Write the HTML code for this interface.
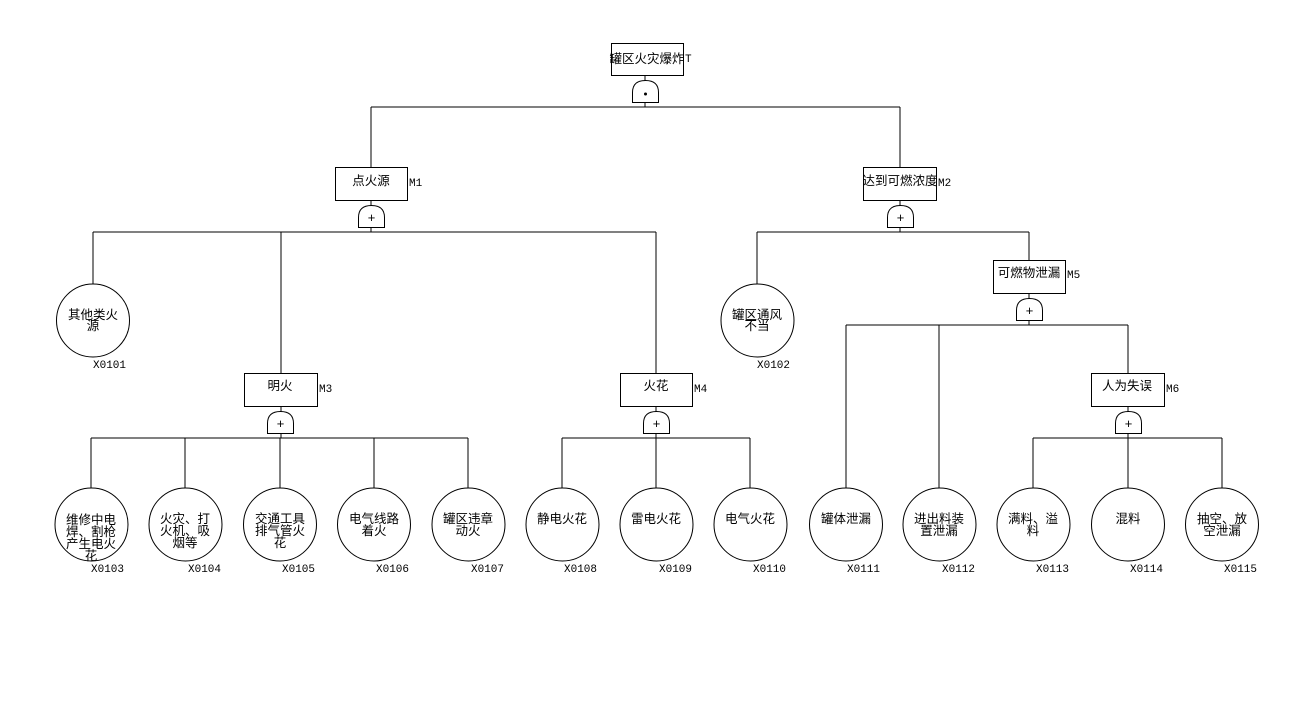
<!DOCTYPE html>
<html><head><meta charset="utf-8"><style>
html,body{margin:0;padding:0;background:#fff;width:1298px;height:716px;overflow:hidden}
svg{display:block}
.t{font-family:"Liberation Sans","Noto Sans CJK SC",sans-serif;font-size:12.5px;fill:#000}
.l{font-family:"Liberation Mono",monospace;font-size:11px;fill:#000}
</style></head><body>
<svg width="1298" height="716" xmlns="http://www.w3.org/2000/svg" stroke="#000" fill="none" stroke-width="1">
<defs>
<g id="g"><path d="M-13,22 V12 Q-13,0 0,0 Q13,0 13,12 V22 Z" fill="#fff"/></g>
</defs>
<g shape-rendering="crispEdges">
<line x1="645" y1="75" x2="645" y2="107"/>
<line x1="371" y1="107" x2="900" y2="107"/>
<line x1="371" y1="107" x2="371" y2="167"/>
<line x1="900" y1="107" x2="900" y2="167"/>
<line x1="371" y1="200" x2="371" y2="232"/>
<line x1="93" y1="232" x2="656" y2="232"/>
<line x1="93" y1="232" x2="93" y2="284"/>
<line x1="281" y1="232" x2="281" y2="373"/>
<line x1="656" y1="232" x2="656" y2="373"/>
<line x1="900" y1="200" x2="900" y2="232"/>
<line x1="757" y1="232" x2="1029" y2="232"/>
<line x1="757" y1="232" x2="757" y2="284"/>
<line x1="1029" y1="232" x2="1029" y2="260"/>
<line x1="1029" y1="293" x2="1029" y2="325"/>
<line x1="846" y1="325" x2="1128" y2="325"/>
<line x1="846" y1="325" x2="846" y2="488"/>
<line x1="939" y1="325" x2="939" y2="488"/>
<line x1="1128" y1="325" x2="1128" y2="373"/>
<line x1="281" y1="406" x2="281" y2="438"/>
<line x1="91" y1="438" x2="468" y2="438"/>
<line x1="656" y1="406" x2="656" y2="438"/>
<line x1="562" y1="438" x2="750" y2="438"/>
<line x1="1128" y1="406" x2="1128" y2="438"/>
<line x1="1033" y1="438" x2="1222" y2="438"/>
<line x1="91" y1="438" x2="91" y2="488"/>
<line x1="185" y1="438" x2="185" y2="488"/>
<line x1="280" y1="438" x2="280" y2="488"/>
<line x1="374" y1="438" x2="374" y2="488"/>
<line x1="468" y1="438" x2="468" y2="488"/>
<line x1="562" y1="438" x2="562" y2="488"/>
<line x1="656" y1="438" x2="656" y2="488"/>
<line x1="750" y1="438" x2="750" y2="488"/>
<line x1="1033" y1="438" x2="1033" y2="488"/>
<line x1="1128" y1="438" x2="1128" y2="488"/>
<line x1="1222" y1="438" x2="1222" y2="488"/>
<rect x="611.5" y="43.5" width="72" height="32" fill="#fff"/>
<rect x="335.5" y="167.5" width="72" height="33" fill="#fff"/>
<rect x="863.5" y="167.5" width="73" height="33" fill="#fff"/>
<rect x="244.5" y="373.5" width="73" height="33" fill="#fff"/>
<rect x="620.5" y="373.5" width="72" height="33" fill="#fff"/>
<rect x="993.5" y="260.5" width="72" height="33" fill="#fff"/>
<rect x="1091.5" y="373.5" width="73" height="33" fill="#fff"/>
</g>
<use href="#g" x="645.5" y="80.5"/>
<use href="#g" x="371.5" y="205.5"/>
<use href="#g" x="900.5" y="205.5"/>
<use href="#g" x="1029.5" y="298.5"/>
<use href="#g" x="280.5" y="411.5"/>
<use href="#g" x="656.5" y="411.5"/>
<use href="#g" x="1128.5" y="411.5"/>
<g stroke="none" fill="#000">
<circle cx="645.5" cy="94" r="1.5"/>
</g>
<g stroke="none" fill="#000" font-family="Liberation Mono,monospace" font-size="13" text-anchor="middle">
<text x="371.5" y="222">+</text><text x="900.5" y="222">+</text><text x="1029.5" y="315">+</text>
<text x="280.5" y="428">+</text><text x="656.5" y="428">+</text><text x="1128.5" y="428">+</text>
</g>
<g fill="#fff">
<circle cx="93" cy="320.5" r="36.5"/>
<circle cx="757.5" cy="320.5" r="36.5"/>
<circle cx="91.5" cy="524.5" r="36.5"/>
<circle cx="185.5" cy="524.5" r="36.5"/>
<circle cx="280" cy="524.5" r="36.5"/>
<circle cx="374" cy="524.5" r="36.5"/>
<circle cx="468.5" cy="524.5" r="36.5"/>
<circle cx="562.5" cy="524.5" r="36.5"/>
<circle cx="656.5" cy="524.5" r="36.5"/>
<circle cx="750.5" cy="524.5" r="36.5"/>
<circle cx="846" cy="524.5" r="36.5"/>
<circle cx="939.5" cy="524.5" r="36.5"/>
<circle cx="1033.5" cy="524.5" r="36.5"/>
<circle cx="1128" cy="524.5" r="36.5"/>
<circle cx="1222" cy="524.5" r="36.5"/>
</g>
<g stroke="none" text-anchor="middle">
<text class="t" x="647" y="63">罐区火灾爆炸</text>
<text class="t" x="371" y="185">点火源</text>
<text class="t" x="900" y="185">达到可燃浓度</text>
<text class="t" x="1029" y="277">可燃物泄漏</text>
<text class="t" x="280" y="390">明火</text>
<text class="t" x="656" y="390">火花</text>
<text class="t" x="1127" y="390">人为失误</text>
<text class="t" x="93" y="319">其他类火</text><text class="t" x="93" y="330">源</text>
<text class="t" x="757" y="319">罐区通风</text><text class="t" x="757" y="330">不当</text>
<text class="t" x="91" y="524">维修中电</text><text class="t" x="91" y="536">焊、割枪</text><text class="t" x="91" y="548">产生电火</text><text class="t" x="91" y="560">花</text>
<text class="t" x="185" y="523">火灾、打</text><text class="t" x="185" y="535">火机、吸</text><text class="t" x="185" y="547">烟等</text>
<text class="t" x="280" y="523">交通工具</text><text class="t" x="280" y="535">排气管火</text><text class="t" x="280" y="547">花</text>
<text class="t" x="374" y="523">电气线路</text><text class="t" x="374" y="535">着火</text>
<text class="t" x="468" y="523">罐区违章</text><text class="t" x="468" y="535">动火</text>
<text class="t" x="562" y="523">静电火花</text>
<text class="t" x="656" y="523">雷电火花</text>
<text class="t" x="750" y="523">电气火花</text>
<text class="t" x="846" y="523">罐体泄漏</text>
<text class="t" x="939" y="523">进出料装</text><text class="t" x="939" y="535">置泄漏</text>
<text class="t" x="1033" y="523">满料、溢</text><text class="t" x="1033" y="535">料</text>
<text class="t" x="1128" y="523">混料</text>
<text class="t" x="1222" y="523">抽空、放</text><text class="t" x="1222" y="535">空泄漏</text>
</g>
<g stroke="none">
<text class="l" x="685" y="62">T</text>
<text class="l" x="409" y="186">M1</text>
<text class="l" x="938" y="186">M2</text>
<text class="l" x="1067" y="278">M5</text>
<text class="l" x="319" y="392">M3</text>
<text class="l" x="694" y="392">M4</text>
<text class="l" x="1166" y="392">M6</text>
<text class="l" x="93" y="368">X0101</text>
<text class="l" x="757" y="368">X0102</text>
<text class="l" x="91" y="572">X0103</text>
<text class="l" x="188" y="572">X0104</text>
<text class="l" x="282" y="572">X0105</text>
<text class="l" x="376" y="572">X0106</text>
<text class="l" x="471" y="572">X0107</text>
<text class="l" x="564" y="572">X0108</text>
<text class="l" x="659" y="572">X0109</text>
<text class="l" x="753" y="572">X0110</text>
<text class="l" x="847" y="572">X0111</text>
<text class="l" x="942" y="572">X0112</text>
<text class="l" x="1036" y="572">X0113</text>
<text class="l" x="1130" y="572">X0114</text>
<text class="l" x="1224" y="572">X0115</text>
</g>
</svg>
</body></html>
